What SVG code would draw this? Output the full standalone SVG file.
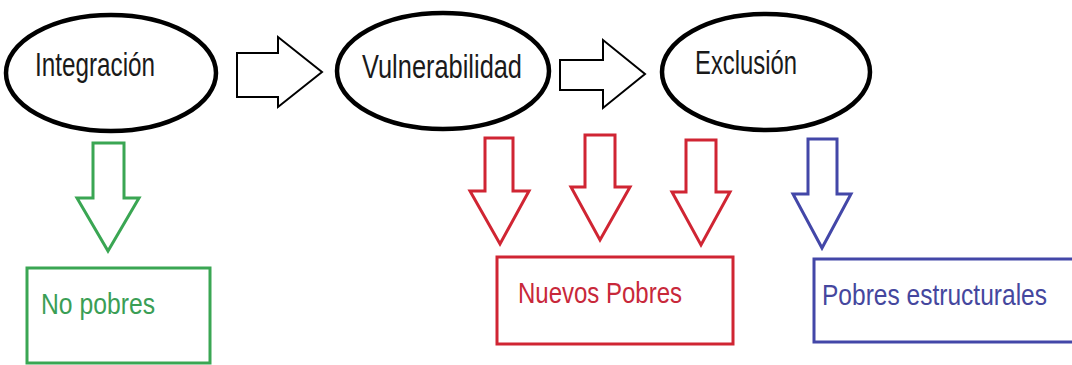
<svg xmlns="http://www.w3.org/2000/svg" width="1072" height="365" viewBox="0 0 1072 365">
<style>
.ell{fill:#fff;stroke:#000;stroke-width:4.5}
.t{font-family:"Liberation Sans",Arial,sans-serif;font-size:33px;fill:#1a1a1a}
.tl{font-family:"Liberation Sans",Arial,sans-serif;font-size:30px}
.ar{fill:#fff;stroke:#000;stroke-width:2;stroke-linejoin:miter}
.g{stroke:#3aa653;fill:#fff;stroke-width:3}
.r{stroke:#d02533;fill:#fff;stroke-width:3}
.b{stroke:#4347a8;fill:none;stroke-width:3}
</style>
<rect width="1072" height="365" fill="#fff"/>
<g id="connectors">
<polygon class="ar" points="237,53 278,53 278,37 322,72 278,107 278,97 237,97"/>
<polygon class="ar" points="560,60 603,60 603,40 645,74 603,108 603,90 560,90"/>
<polygon class="g" points="93,143 124,143 124,198 139,198 108,251 77,198 93,198"/>
<polygon class="r" points="485,138 513,138 513,191 529,191 500,244 470,191 485,191"/>
<polygon class="r" points="585,135 615,135 615,187 630,187 600,240 571,187 585,187"/>
<polygon class="r" points="686,140 716,140 716,192 730,192 701,245 672,192 686,192"/>
<polygon class="b" points="808,139 837,139 837,194 851,194 822,248 793,194 808,194" fill="#fff"/>
</g>
<g id="integracion">
<ellipse class="ell" cx="111" cy="73" rx="105" ry="58"/>
<text class="t" x="35" y="76" textLength="120" lengthAdjust="spacingAndGlyphs">Integración</text>
</g>
<g id="vulnerabilidad">
<ellipse class="ell" cx="443" cy="71" rx="106" ry="58"/>
<text class="t" x="362" y="78" textLength="160" lengthAdjust="spacingAndGlyphs">Vulnerabilidad</text>
</g>
<g id="exclusion">
<ellipse class="ell" cx="766" cy="72" rx="104" ry="58"/>
<text class="t" x="695" y="74" textLength="102" lengthAdjust="spacingAndGlyphs">Exclusión</text>
</g>
<g id="no-pobres">
<rect class="g" x="27" y="268" width="183" height="95"/>
<text class="tl" x="41" y="314" fill="#3a9e55" textLength="114" lengthAdjust="spacingAndGlyphs">No pobres</text>
</g>
<g id="nuevos-pobres">
<rect class="r" x="497" y="257" width="236" height="87"/>
<text class="tl" x="518" y="303" fill="#c8283a" textLength="164" lengthAdjust="spacingAndGlyphs">Nuevos Pobres</text>
</g>
<g id="pobres-estructurales">
<path class="b" d="M1072,259 H814 V342 H1072"/>
<text class="tl" x="822" y="305" fill="#45479e" textLength="225" lengthAdjust="spacingAndGlyphs">Pobres estructurales</text>
</g>
</svg>
